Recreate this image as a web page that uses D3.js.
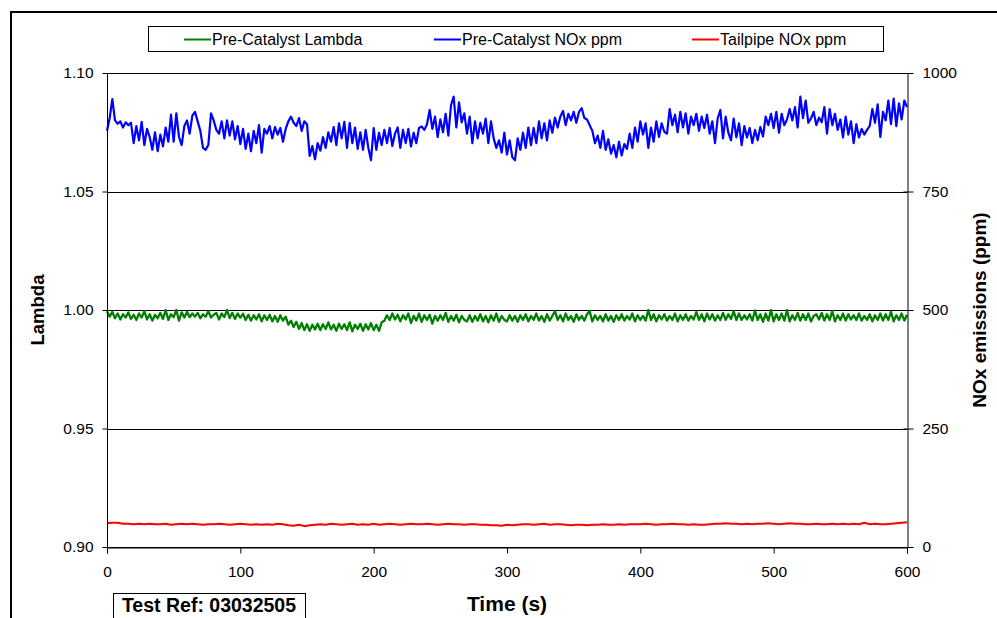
<!DOCTYPE html>
<html><head><meta charset="utf-8">
<script src="https://cdn.jsdelivr.net/npm/d3@7"></script>
<style>
html,body{margin:0;padding:0;background:#fff;}
svg{display:block;font-family:"Liberation Sans",Arial,sans-serif;}
</style></head>
<body><svg id="c" width="997" height="618"></svg>
<script>
// Time axis (s) and step sizes
const blueStep = 2, greenStep = 2, redStep = 4;
const timeTicks = [0, 100, 200, 300, 400, 500, 600];
const lambdaTicks = [0.90, 0.95, 1.00, 1.05, 1.10];
const noxTicks = [0, 250, 500, 750, 1000];
const seriesNames = ["Pre-Catalyst Lambda", "Pre-Catalyst NOx ppm", "Tailpipe NOx ppm"];
const seriesColors = ["#008000", "#0000FF", "#FF0000"];

// Pre-Catalyst NOx ppm, every 2 s
const preNox = [
878,905,945,900,893,898,885,896,890,895,
852,888,858,897,848,882,865,838,875,835,
870,845,885,855,912,855,915,865,848,888,
900,872,910,918,898,878,842,838,848,915,
900,880,872,898,862,900,868,898,860,888,
850,882,840,872,835,878,852,890,832,882,
872,888,862,886,870,884,855,882,898,908,
895,888,905,878,898,892,825,846,818,852,
836,865,842,875,855,886,848,894,862,897,
842,895,852,885,840,875,838,880,842,816,
884,838,874,848,880,852,884,846,872,885,
842,880,852,882,845,874,852,884,887,880,
892,922,882,908,865,902,875,914,868,932,
950,885,938,896,915,872,908,852,898,862,
895,872,904,852,898,862,842,858,832,874,
828,858,822,816,862,838,874,842,885,848,
884,852,898,862,894,858,900,874,906,885,
908,920,890,914,900,918,895,918,926,905,
902,890,878,852,868,842,878,838,860,830,
848,822,855,826,850,840,872,842,885,855,
898,870,894,842,885,855,898,865,894,876,
872,924,890,912,875,918,885,915,872,908,
890,914,878,908,884,912,872,898,852,904,
922,862,908,874,858,904,864,894,848,888,
864,884,852,880,858,886,866,908,890,914,
884,918,874,914,890,902,924,900,928,885,
950,905,942,895,904,918,890,906,896,928,
872,924,890,914,880,902,864,908,870,898,
852,892,864,882,870,880,888,924,895,934,
865,918,900,942,892,946,888,936,902,942,
928];

// Pre-Catalyst Lambda, every 2 s
const preLambda = [
0.9995,0.9972,0.9992,0.9965,0.9985,0.9960,0.9982,0.9968,0.9990,0.9962,
0.9980,0.9958,0.9985,0.9968,0.9995,0.9960,0.9982,0.9955,0.9980,0.9965,
0.9988,0.9962,1.0000,0.9958,0.9982,0.9970,1.0000,0.9955,0.9990,0.9968,
0.9992,0.9970,0.9985,0.9972,0.9988,0.9965,0.9982,0.9972,0.9995,0.9968,
0.9980,0.9988,0.9960,0.9985,0.9970,1.0000,0.9966,0.9988,0.9962,0.9985,
0.9968,0.9984,0.9958,0.9980,0.9955,0.9978,0.9960,0.9982,0.9952,0.9978,
0.9958,0.9980,0.9952,0.9975,0.9950,0.9978,0.9955,0.9972,0.9938,0.9955,
0.9928,0.9950,0.9920,0.9945,0.9915,0.9940,0.9912,0.9938,0.9918,0.9942,
0.9915,0.9940,0.9920,0.9948,0.9918,0.9938,0.9912,0.9942,0.9920,0.9940,
0.9915,0.9948,0.9910,0.9938,0.9920,0.9942,0.9912,0.9940,0.9918,0.9945,
0.9915,0.9938,0.9912,0.9948,0.9955,0.9978,0.9958,0.9985,0.9960,0.9980,
0.9952,0.9978,0.9960,0.9985,0.9945,0.9975,0.9955,0.9985,0.9950,0.9978,
0.9958,0.9980,0.9942,0.9975,0.9955,0.9978,0.9958,0.9988,0.9950,0.9975,
0.9955,0.9980,0.9948,0.9975,0.9958,0.9952,0.9978,0.9950,0.9975,0.9955,
0.9982,0.9952,0.9975,0.9948,0.9978,0.9955,0.9985,0.9950,0.9975,0.9958,
0.9952,0.9978,0.9955,0.9975,0.9950,0.9978,0.9958,0.9982,0.9952,0.9975,
0.9958,0.9985,0.9955,0.9975,0.9950,0.9982,0.9955,0.9975,0.9995,0.9958,
0.9978,0.9952,0.9985,0.9958,0.9975,0.9950,0.9982,0.9958,0.9975,0.9955,
0.9982,0.9995,0.9952,0.9978,0.9958,0.9975,0.9952,0.9982,0.9955,0.9975,
0.9950,0.9978,0.9958,0.9982,0.9955,0.9975,0.9960,0.9985,0.9952,0.9978,
0.9958,0.9975,0.9955,1.0000,0.9958,0.9982,0.9952,0.9978,0.9960,0.9982,
0.9955,0.9975,0.9958,0.9985,0.9952,0.9978,0.9958,0.9982,0.9955,0.9975,
0.9960,0.9992,0.9958,0.9982,0.9952,0.9985,0.9960,0.9982,0.9955,0.9978,
0.9958,0.9988,0.9958,0.9982,0.9962,0.9995,0.9958,0.9985,0.9958,0.9978,
0.9960,0.9982,0.9955,0.9998,0.9958,0.9982,0.9950,0.9985,0.9955,1.0000,
0.9952,0.9982,0.9958,0.9985,0.9955,1.0000,0.9952,0.9978,0.9958,0.9988,
0.9955,0.9982,0.9958,0.9985,0.9952,0.9975,0.9982,0.9960,0.9988,0.9955,
0.9982,0.9958,0.9995,0.9952,0.9978,0.9958,0.9985,0.9955,0.9982,0.9960,
0.9978,0.9958,0.9985,0.9955,0.9975,0.9958,0.9982,0.9952,0.9978,0.9958,
0.9985,0.9955,0.9982,0.9958,0.9992,0.9952,0.9978,0.9958,0.9985,0.9955,
0.9980];

// Tailpipe NOx ppm, every 4 s
const tailNox = [
50,51,51,49,49,48,49,48,49,48,
48,49,47,48,49,48,49,48,47,48,
48,49,48,47,48,49,48,47,48,47,
48,47,49,48,46,45,47,44,46,47,
48,47,49,48,47,48,49,47,48,47,
49,47,48,49,48,47,48,49,48,48,
49,48,47,48,49,48,48,47,48,48,
47,47,46,46,45,47,46,47,48,48,
47,48,49,47,48,48,47,46,47,47,
46,47,47,48,47,47,48,47,48,48,
48,49,48,47,48,48,49,48,48,47,
48,47,47,48,49,49,50,49,49,48,
49,48,49,49,50,49,48,49,50,49,
49,48,48,49,48,48,49,48,49,48,
49,48,51,48,49,48,48,49,50,51,
52];

const svg = d3.select("#c");
const L = 107, R = 907, T = 73, B = 547;
const FONT = "Liberation Sans, Arial, sans-serif";

// Outer frame
svg.append("rect").attr("x", 11).attr("y", 12).attr("width", 1100).attr("height", 800)
  .attr("fill", "none").attr("stroke", "#000").attr("stroke-width", 2);

const x = d3.scaleLinear().domain([0, 600]).range([L, R]);
const yL = d3.scaleLinear().domain([0.90, 1.10]).range([B, T]);
const yR = d3.scaleLinear().domain([0, 1000]).range([B, T]);

// Gridlines
svg.append("g").selectAll("line").data(lambdaTicks).join("line")
  .attr("x1", L).attr("x2", R)
  .attr("y1", d => Math.round(yL(d)) + 0.5).attr("y2", d => Math.round(yL(d)) + 0.5)
  .attr("stroke", "#000").attr("stroke-width", 1);

// Lines
function drawLine(vals, step, yScale, color, w) {
  const line = d3.line().x((d, i) => x(i * step)).y(d => yScale(d));
  svg.append("path").datum(vals).attr("d", line)
    .attr("fill", "none").attr("stroke", color).attr("stroke-width", w)
    .attr("stroke-linejoin", "round");
}
drawLine(tailNox, redStep, yR, seriesColors[2], 2);
drawLine(preLambda, greenStep, yL, seriesColors[0], 2.3);
drawLine(preNox, blueStep, yR, seriesColors[1], 2.2);

// Axes
const fs = "15.5px";
const ax = svg.append("g").attr("transform", `translate(${L+0.5},0)`)
  .call(d3.axisLeft(yL).tickValues(lambdaTicks).tickFormat(d3.format(".2f")).tickSize(5).tickPadding(9));
const axR = svg.append("g").attr("transform", `translate(${R+0.5},0)`)
  .call(d3.axisRight(yR).tickValues(noxTicks).tickFormat(d3.format("d")).tickSizeInner(6).tickSizeOuter(0).tickPadding(9));
axR.selectAll(".tick line").attr("x1", -4);
const axB = svg.append("g").attr("transform", `translate(0,${B+0.5})`)
  .call(d3.axisBottom(x).tickValues(timeTicks).tickSize(6).tickPadding(12));
[ax, axR, axB].forEach(g => {
  g.selectAll("text").attr("font-size", fs).attr("font-family", FONT).attr("fill", "#000");
  g.selectAll("path,line").attr("stroke", "#000");
});
ax.select(".domain").attr("d", `M0,${T}V${B}`);
ax.selectAll(".tick line").attr("x2", -5);

// Axis titles
svg.append("text").attr("transform", `translate(44,${(T+B)/2}) rotate(-90)`)
  .attr("text-anchor", "middle").attr("font-weight", "bold").attr("font-size", "18.5px").text("Lambda");
svg.append("text").attr("transform", `translate(986,${(T+B)/2}) rotate(-90)`)
  .attr("text-anchor", "middle").attr("font-weight", "bold").attr("font-size", "19px").text("NOx emissions (ppm)");
svg.append("text").attr("x", 507).attr("y", 611)
  .attr("text-anchor", "middle").attr("font-weight", "bold").attr("font-size", "21px").text("Time (s)");

// Test ref box
svg.append("rect").attr("x", 113.5).attr("y", 593.5).attr("width", 192).attr("height", 40)
  .attr("fill", "#fff").attr("stroke", "#000").attr("stroke-width", 1);
svg.append("text").attr("x", 209).attr("y", 612).attr("text-anchor", "middle")
  .attr("font-weight", "bold").attr("font-size", "19.5px").text("Test Ref: 03032505");

// Legend
svg.append("rect").attr("x", 148.5).attr("y", 26.5).attr("width", 735).attr("height", 25)
  .attr("fill", "#fff").attr("stroke", "#000").attr("stroke-width", 1);
const legX = [184, 434, 692];
const lg = svg.append("g").selectAll("g").data(seriesNames).join("g")
  .attr("transform", (d, i) => `translate(${legX[i]},39.5)`);
lg.append("line").attr("x1", 0).attr("x2", 27).attr("stroke", (d, i) => seriesColors[i]).attr("stroke-width", 2);
lg.append("text").attr("x", 28).attr("y", 5.5).attr("font-size", "16px").attr("font-family", FONT).text(d => d);
</script></body></html>
